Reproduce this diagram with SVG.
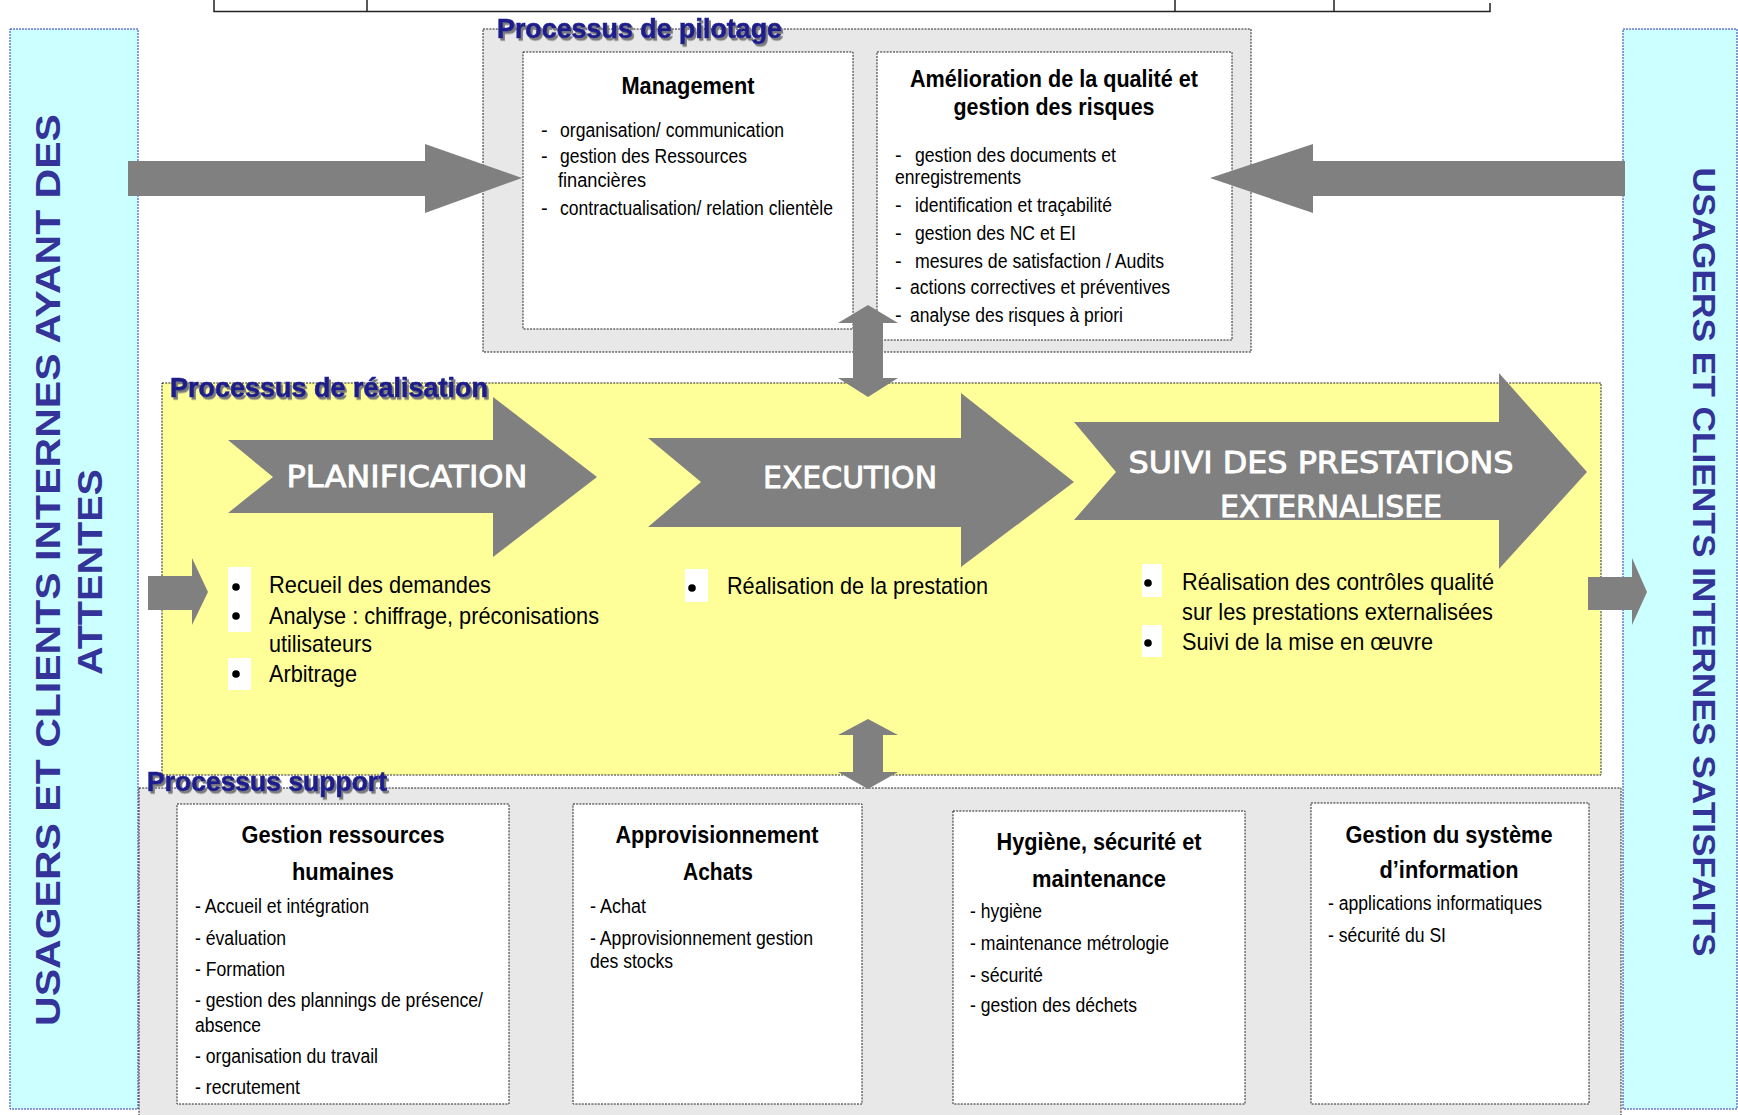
<svg xmlns="http://www.w3.org/2000/svg" width="1738" height="1115" viewBox="0 0 1738 1115">
<defs>
<filter id="sh" x="-5%" y="-30%" width="112%" height="170%">
<feDropShadow dx="2" dy="2.5" stdDeviation="0.6" flood-color="#7a7a7a" flood-opacity="1"/>
</filter>
<style>
.t{font-family:"Liberation Sans Narrow","Liberation Sans",Arial,sans-serif;fill:#000;font-size:20px}
.ttl{font-family:"Liberation Sans Narrow","Liberation Sans",Arial,sans-serif;fill:#000;font-size:24px;font-weight:bold;text-anchor:middle}
.bl{font-family:"Liberation Sans Narrow","Liberation Sans",Arial,sans-serif;fill:#000;font-size:24px}
.hdr{font-family:"Liberation Sans",Arial,sans-serif;font-weight:bold;font-size:28px;fill:#1c1c8c;stroke:#1c1c8c;stroke-width:0.7;filter:url(#sh)}
.at{font-family:"DejaVu Sans",sans-serif;fill:#fff;stroke:#fff;stroke-width:0.9;font-size:31px;text-anchor:middle}
.side{font-family:"Liberation Sans",Arial,sans-serif;font-weight:bold;fill:#333399;text-anchor:middle}
.dot{fill:none;stroke:#222;stroke-width:1;stroke-dasharray:2 1.2}
.cy{fill:#ccffff;stroke:#3333bb;stroke-width:1;stroke-dasharray:2 1}
.gr{fill:#e8e8e8}
.wb{fill:#fff}
.ye{fill:#ffff99}
.ar{fill:#808080}
.bd{fill:#000}
</style>
</defs>
<rect width="1738" height="1115" fill="#fff"/>

<g id="top-rule" stroke="#222" stroke-width="1.5" fill="none">
<path d="M214,0 V11.5 H1490 V3 M367,0 V11.5 M1175,0 V11.5 M1334,0 V11.5"/>
</g>

<g id="clients-entree">
<rect class="cy" x="10" y="29" width="128" height="1080"/>
<text class="side" font-size="35" transform="translate(60,570) rotate(-90)" textLength="912" lengthAdjust="spacingAndGlyphs">USAGERS ET CLIENTS INTERNES AYANT DES</text>
<text class="side" font-size="35" transform="translate(102,572) rotate(-90)" textLength="206" lengthAdjust="spacingAndGlyphs">ATTENTES</text>
</g>

<g id="clients-sortie">
<rect class="cy" x="1623" y="29" width="114" height="1080"/>
<text class="side" font-size="32" transform="translate(1693,562) rotate(90)" textLength="789" lengthAdjust="spacingAndGlyphs">USAGERS ET CLIENTS INTERNES SATISFAITS</text>
</g>

<g id="processus-pilotage">
<rect class="gr" x="483" y="29" width="768" height="323"/>
<rect class="dot" x="483" y="29" width="768" height="323"/>
<text class="hdr" x="497" y="38" textLength="285" lengthAdjust="spacingAndGlyphs">Processus de pilotage</text>
</g>

<g id="management">
<rect class="wb" x="523" y="52" width="330" height="277"/>
<rect class="dot" x="523" y="52" width="330" height="277"/>
<text class="ttl" x="688" y="94" textLength="133" lengthAdjust="spacingAndGlyphs">Management</text>
<text class="t" y="137"><tspan x="541">- </tspan><tspan x="560" textLength="224" lengthAdjust="spacingAndGlyphs">organisation/ communication</tspan></text>
<text class="t" y="163"><tspan x="541">- </tspan><tspan x="560" textLength="187" lengthAdjust="spacingAndGlyphs">gestion des Ressources</tspan></text>
<text class="t" x="558" y="187" textLength="88" lengthAdjust="spacingAndGlyphs">financières</text>
<text class="t" y="215"><tspan x="541">- </tspan><tspan x="560" textLength="273" lengthAdjust="spacingAndGlyphs">contractualisation/ relation clientèle</tspan></text>
</g>

<g id="amelioration-qualite">
<rect class="wb" x="877" y="52" width="355" height="288"/>
<rect class="dot" x="877" y="52" width="355" height="288"/>
<text class="ttl" x="1054" y="87" textLength="288" lengthAdjust="spacingAndGlyphs">Amélioration de la qualité et</text>
<text class="ttl" x="1054" y="115" textLength="201" lengthAdjust="spacingAndGlyphs">gestion des risques</text>
<text class="t" y="162"><tspan x="895">- </tspan><tspan x="915" textLength="201" lengthAdjust="spacingAndGlyphs">gestion des documents et</tspan></text>
<text class="t" x="895" y="184" textLength="126" lengthAdjust="spacingAndGlyphs">enregistrements</text>
<text class="t" y="212"><tspan x="895">- </tspan><tspan x="915" textLength="197" lengthAdjust="spacingAndGlyphs">identification et traçabilité</tspan></text>
<text class="t" y="240"><tspan x="895">- </tspan><tspan x="915" textLength="161" lengthAdjust="spacingAndGlyphs">gestion des NC et EI</tspan></text>
<text class="t" y="268"><tspan x="895">- </tspan><tspan x="915" textLength="249" lengthAdjust="spacingAndGlyphs">mesures de satisfaction / Audits</tspan></text>
<text class="t" y="294"><tspan x="895">- </tspan><tspan x="910" textLength="260" lengthAdjust="spacingAndGlyphs">actions correctives et préventives</tspan></text>
<text class="t" y="322"><tspan x="895">- </tspan><tspan x="910" textLength="213" lengthAdjust="spacingAndGlyphs">analyse des risques à priori</tspan></text>
</g>

<g id="processus-realisation">
<rect class="ye" x="162" y="383" width="1439" height="392"/>
<rect class="dot" x="162" y="383" width="1439" height="392"/>
<text class="hdr" x="170" y="397" textLength="318" lengthAdjust="spacingAndGlyphs">Processus de réalisation</text>
</g>

<g id="planification">
<polygon class="ar" points="228,440 493,440 493,397 597,477 493,557 493,513 228,513 273,477"/>
<text class="at" x="407" y="487" textLength="241" lengthAdjust="spacingAndGlyphs">PLANIFICATION</text>
<rect class="wb" x="228" y="567" width="23" height="65"/>
<rect class="wb" x="228" y="658" width="23" height="32"/>
<circle class="bd" cx="236" cy="587" r="3.8"/>
<circle class="bd" cx="236" cy="616" r="3.8"/>
<circle class="bd" cx="236" cy="674" r="3.8"/>
<text class="bl" x="269" y="593" textLength="222" lengthAdjust="spacingAndGlyphs">Recueil des demandes</text>
<text class="bl" x="269" y="624" textLength="330" lengthAdjust="spacingAndGlyphs">Analyse : chiffrage, préconisations</text>
<text class="bl" x="269" y="652" textLength="103" lengthAdjust="spacingAndGlyphs">utilisateurs</text>
<text class="bl" x="269" y="682" textLength="88" lengthAdjust="spacingAndGlyphs">Arbitrage</text>
</g>

<g id="execution">
<polygon class="ar" points="648,438 961,438 961,393 1074,482 961,567 961,527 648,527 701,482"/>
<text class="at" x="850" y="488" textLength="174" lengthAdjust="spacingAndGlyphs">EXECUTION</text>
<rect class="wb" x="685" y="569" width="23" height="33"/>
<circle class="bd" cx="692" cy="588" r="3.8"/>
<text class="bl" x="727" y="594" textLength="261" lengthAdjust="spacingAndGlyphs">Réalisation de la prestation</text>
</g>

<g id="suivi-prestations">
<polygon class="ar" points="1074,422 1499,422 1499,373 1587,472 1499,569 1499,520 1074,520 1116,472"/>
<text class="at" x="1321" y="473" textLength="385" lengthAdjust="spacingAndGlyphs">SUIVI DES PRESTATIONS</text>
<text class="at" x="1331" y="517" textLength="222" lengthAdjust="spacingAndGlyphs">EXTERNALISEE</text>
<rect class="wb" x="1142" y="564" width="20" height="33"/>
<rect class="wb" x="1142" y="625" width="20" height="32"/>
<circle class="bd" cx="1148" cy="583" r="3.8"/>
<circle class="bd" cx="1148" cy="643" r="3.8"/>
<text class="bl" x="1182" y="590" textLength="312" lengthAdjust="spacingAndGlyphs">Réalisation des contrôles qualité</text>
<text class="bl" x="1182" y="620" textLength="311" lengthAdjust="spacingAndGlyphs">sur les prestations externalisées</text>
<text class="bl" x="1182" y="650" textLength="251" lengthAdjust="spacingAndGlyphs">Suivi de la mise en œuvre</text>
</g>

<g id="processus-support">
<rect class="gr" x="139" y="788" width="1482" height="330"/>
<rect class="dot" x="139" y="788" width="1482" height="330"/>
<text class="hdr" x="147" y="791" textLength="240" lengthAdjust="spacingAndGlyphs">Processus support</text>
</g>

<g id="gestion-rh">
<rect class="wb" x="177" y="804" width="332" height="300"/>
<rect class="dot" x="177" y="804" width="332" height="300"/>
<text class="ttl" x="343" y="843" textLength="203" lengthAdjust="spacingAndGlyphs">Gestion ressources</text>
<text class="ttl" x="343" y="880" textLength="102" lengthAdjust="spacingAndGlyphs">humaines</text>
<text class="t" x="195" y="913" textLength="174" lengthAdjust="spacingAndGlyphs">- Accueil et intégration</text>
<text class="t" x="195" y="945" textLength="91" lengthAdjust="spacingAndGlyphs">- évaluation</text>
<text class="t" x="195" y="976" textLength="90" lengthAdjust="spacingAndGlyphs">- Formation</text>
<text class="t" x="195" y="1007" textLength="288" lengthAdjust="spacingAndGlyphs">- gestion des plannings de présence/</text>
<text class="t" x="195" y="1032" textLength="66" lengthAdjust="spacingAndGlyphs">absence</text>
<text class="t" x="195" y="1063" textLength="183" lengthAdjust="spacingAndGlyphs">- organisation du travail</text>
<text class="t" x="195" y="1094" textLength="105" lengthAdjust="spacingAndGlyphs">- recrutement</text>
</g>

<g id="approvisionnement">
<rect class="wb" x="573" y="804" width="289" height="300"/>
<rect class="dot" x="573" y="804" width="289" height="300"/>
<text class="ttl" x="717" y="843" textLength="203" lengthAdjust="spacingAndGlyphs">Approvisionnement</text>
<text class="ttl" x="718" y="880" textLength="70" lengthAdjust="spacingAndGlyphs">Achats</text>
<text class="t" x="590" y="913" textLength="56" lengthAdjust="spacingAndGlyphs">- Achat</text>
<text class="t" x="590" y="945" textLength="223" lengthAdjust="spacingAndGlyphs">- Approvisionnement gestion</text>
<text class="t" x="590" y="968" textLength="83" lengthAdjust="spacingAndGlyphs">des stocks</text>
</g>

<g id="hygiene-securite">
<rect class="wb" x="953" y="811" width="292" height="293"/>
<rect class="dot" x="953" y="811" width="292" height="293"/>
<text class="ttl" x="1099" y="850" textLength="205" lengthAdjust="spacingAndGlyphs">Hygiène, sécurité et</text>
<text class="ttl" x="1099" y="887" textLength="134" lengthAdjust="spacingAndGlyphs">maintenance</text>
<text class="t" x="970" y="918" textLength="72" lengthAdjust="spacingAndGlyphs">- hygiène</text>
<text class="t" x="970" y="950" textLength="199" lengthAdjust="spacingAndGlyphs">- maintenance métrologie</text>
<text class="t" x="970" y="982" textLength="73" lengthAdjust="spacingAndGlyphs">- sécurité</text>
<text class="t" x="970" y="1012" textLength="167" lengthAdjust="spacingAndGlyphs">- gestion des déchets</text>
</g>

<g id="systeme-information">
<rect class="wb" x="1311" y="803" width="278" height="301"/>
<rect class="dot" x="1311" y="803" width="278" height="301"/>
<text class="ttl" x="1449" y="843" textLength="207" lengthAdjust="spacingAndGlyphs">Gestion du système</text>
<text class="ttl" x="1449" y="878" textLength="139" lengthAdjust="spacingAndGlyphs">d’information</text>
<text class="t" x="1328" y="910" textLength="214" lengthAdjust="spacingAndGlyphs">- applications informatiques</text>
<text class="t" x="1328" y="942" textLength="118" lengthAdjust="spacingAndGlyphs">- sécurité du SI</text>
</g>

<g id="connectors" class="ar">
<polygon points="128,161 425,161 425,144 522,178 425,213 425,196 128,196"/>
<polygon points="1625,161 1313,161 1313,144 1210,178 1313,213 1313,196 1625,196"/>
<polygon points="868,305 898,323 883,323 883,378 898,378 868,397 838,378 853,378 853,323 838,323"/>
<polygon points="868,719 898,735 883,735 883,772 898,772 868,789 838,772 853,772 853,735 838,735"/>
<polygon points="148,576 192,576 192,558 208,592 192,625 192,610 148,610"/>
<polygon points="1588,577 1632,577 1632,558 1647,592 1632,625 1632,610 1588,610"/>
</g>
</svg>
